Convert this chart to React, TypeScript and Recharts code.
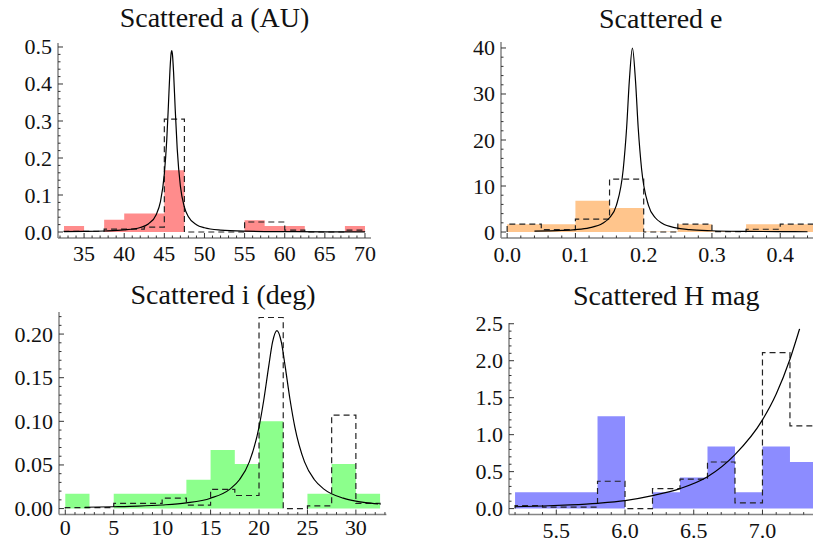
import { ComposedChart, Area, Line, XAxis, YAxis } from "recharts"

// ---- Scattered a (AU)
const aEdges = [32.5, 35, 37.5, 40, 42.5, 45, 47.5, 50, 52.5, 55, 57.5, 60, 62.5, 65, 67.5, 70]
const aFilled = [0.016, 0, 0.033, 0.05, 0.05, 0.167, 0, 0, 0, 0.032, 0.016, 0.016, 0, 0, 0.016]
const aDashed = [0.002, 0.002, 0.008, 0.008, 0.013, 0.305, 0, 0, 0, 0.027, 0.027, 0.005, 0, 0, 0.005]
const aCurveX = [32.5, 35, 37.5, 40, 42, 43, 44, 44.5, 45, 45.3, 45.5, 45.7, 45.85, 45.92, 46, 46.15, 46.35, 46.6, 47, 47.5, 48, 49, 50, 52, 55, 60, 65, 70]
const aCurveY = [0.0011, 0.0016, 0.0027, 0.0055, 0.0123, 0.0218, 0.0476, 0.0806, 0.157, 0.249, 0.339, 0.437, 0.484, 0.49, 0.482, 0.432, 0.334, 0.226, 0.124, 0.067, 0.041, 0.0197, 0.0114, 0.0052, 0.0023, 0.001, 0.0005, 0.0003]
const aXTicks = [35, 40, 45, 50, 55, 60, 65, 70]
const aYTicks = [0, 0.1, 0.2, 0.3, 0.4, 0.5]

// ---- Scattered e
const eEdges = [0, 0.05, 0.1, 0.15, 0.2, 0.25, 0.3, 0.35, 0.4, 0.45]
const eFilled = [1.7, 1.7, 6.8, 5.2, 0.1, 1.7, 0.15, 1.7, 1.7]
const eDashed = [1.7, 0.5, 2.8, 11.5, 0, 1.7, 0.1, 0.6, 1.7]
const eCurveX = [0.04, 0.06, 0.08, 0.1, 0.12, 0.14, 0.15, 0.16, 0.17, 0.175, 0.179, 0.1835, 0.188, 0.192, 0.197, 0.207, 0.217, 0.227, 0.247, 0.267, 0.3, 0.35, 0.4, 0.44]
const eCurveY = [0.18, 0.25, 0.35, 0.53, 0.91, 1.9, 3.1, 5.8, 13.6, 22.6, 32.9, 40, 32.9, 22.6, 13.6, 5.8, 3.1, 1.9, 0.91, 0.53, 0.28, 0.14, 0.08, 0.06]
const eXTicks = [0, 0.1, 0.2, 0.3, 0.4]
const eYTicks = [0, 10, 20, 30, 40]

// ---- Scattered i (deg)
const iEdges = [0, 2.5, 5, 7.5, 10, 12.5, 15, 17.5, 20, 22.5, 25, 27.5, 30, 32.5]
const iFilled = [0.017, 0, 0.017, 0.017, 0.017, 0.033, 0.067, 0.051, 0.1, 0, 0.017, 0.051, 0.017]
const iDashed = [0.001, 0.001, 0.006, 0.006, 0.012, 0.004, 0.022, 0.015, 0.219, 0, 0.003, 0.107, 0.006]
const iCurveX = [2, 5, 7.5, 10, 12.5, 15, 17, 18, 19, 20, 20.5, 21, 21.4, 21.85, 22.3, 22.7, 23.2, 23.7, 24.7, 25.7, 26.7, 28.7, 30, 31, 32.3]
const iCurveY = [0.0015, 0.0021, 0.0028, 0.0041, 0.0065, 0.0119, 0.0223, 0.0333, 0.0535, 0.0934, 0.125, 0.163, 0.191, 0.204, 0.191, 0.163, 0.125, 0.0934, 0.0535, 0.0333, 0.0223, 0.0119, 0.0085, 0.0068, 0.0053]
const iXTicks = [0, 5, 10, 15, 20, 25, 30]
const iYTicks = [0, 0.05, 0.1, 0.15, 0.2]

// ---- Scattered H mag
const hEdges = [5.2, 5.4, 5.6, 5.8, 6.0, 6.2, 6.4, 6.6, 6.8, 7.0, 7.2, 7.4]
const hFilled = [0.22, 0.22, 0.22, 1.25, 0, 0.22, 0.42, 0.84, 0.22, 0.84, 0.63]
const hDashed = [0.04, 0.02, 0.02, 0.37, 0, 0.27, 0.4, 0.63, 0.077, 2.11, 1.12]
const hCurveX = [5.2, 5.4, 5.6, 5.8, 6.0, 6.2, 6.4, 6.6, 6.8, 7.0, 7.1, 7.2, 7.27]
const hCurveY = [0.025, 0.035, 0.05, 0.072, 0.108, 0.176, 0.27, 0.43, 0.73, 1.2, 1.55, 2.02, 2.43]
const hXTicks = [5.5, 6.0, 6.5, 7.0]
const hYTicks = [0, 0.5, 1.0, 1.5, 2.0, 2.5]

const FONT = "'Liberation Serif', 'Times New Roman', serif"
const FRAME = "#858585"
const TICK = "#333"

const stepData = (edges: number[], vals: number[]) => {
  const pts = [{ x: edges[0], y: 0 }]
  vals.forEach((v, i) => pts.push({ x: edges[i], y: v }))
  pts.push({ x: edges[edges.length - 1], y: vals[vals.length - 1] })
  pts.push({ x: edges[edges.length - 1], y: 0 })
  return pts
}

const curveData = (xs: number[], ys: number[]) => xs.map((x, i) => ({ x, y: ys[i] }))

// major ticks plus minor subdivisions inside the domain
const withMinors = (majors: number[], domain: number[]) => {
  const step = (majors[1] - majors[0]) / 5
  const out: number[] = []
  const start = Math.ceil(domain[0] / step - 1e-6)
  for (let k = start; k * step <= domain[1] + 1e-9; k++) out.push(Number((k * step).toFixed(6)))
  return out
}

const isMajor = (v: number, majors: number[]) => majors.some((m) => Math.abs(m - v) < 1e-6)

interface PanelProps {
  title: string
  edges: number[]
  filled: number[]
  dashed: number[]
  curveX: number[]
  curveY: number[]
  xTicks: number[]
  yTicks: number[]
  xDec: number
  yDec: number
  xDomain: number[]
  yDomain: number[]
  plot: { left: number; top: number; right: number; bottom: number }
  color: string
  labelDy: number
  titleY: number
  showRight: boolean
}

const AXW = 60
const AXH = 34
const PADT = 16
const PADR = 6

const Panel = (p: PanelProps) => {
  const w = p.plot.right - p.plot.left
  const h = p.plot.bottom - p.plot.top
  const xAll = withMinors(p.xTicks, p.xDomain)
  const yAll = withMinors(p.yTicks, p.yDomain)

  const bottomTick = (props: any) => {
    const { x, y, payload } = props
    const major = isMajor(payload.value, p.xTicks)
    return (
      <g>
        <line x1={x} x2={x} y1={y} y2={y - (major ? 5 : 2.5)} stroke={TICK} strokeWidth={1} />
        {major && (
          <text x={x} y={y + p.labelDy} textAnchor="middle" fontFamily={FONT} fontSize={22} fill="#111">
            {payload.value.toFixed(p.xDec)}
          </text>
        )}
      </g>
    )
  }
  const topTick = (props: any) => {
    const { x, y, payload } = props
    const major = isMajor(payload.value, p.xTicks)
    return <line x1={x} x2={x} y1={y} y2={y + (major ? 5 : 2.5)} stroke={TICK} strokeWidth={1} />
  }
  const leftTick = (props: any) => {
    const { x, y, payload } = props
    const major = isMajor(payload.value, p.yTicks)
    return (
      <g>
        <line x1={x} x2={x + (major ? 5 : 2.5)} y1={y} y2={y} stroke={TICK} strokeWidth={1} />
        {major && (
          <text x={x - 6} y={y + 7.5} textAnchor="end" fontFamily={FONT} fontSize={22} fill="#111">
            {payload.value.toFixed(p.yDec)}
          </text>
        )}
      </g>
    )
  }
  const rightTick = (props: any) => {
    const { x, y, payload } = props
    const major = isMajor(payload.value, p.yTicks)
    return <line x1={x} x2={x - (major ? 5 : 2.5)} y1={y} y2={y} stroke={TICK} strokeWidth={1} />
  }

  return (
    <div style={{ position: "absolute", left: p.plot.left - AXW, top: p.plot.top - PADT }}>
      <ComposedChart
        width={w + AXW + PADR}
        height={h + AXH + PADT}
        margin={{ top: PADT, right: PADR, bottom: 0, left: 0 }}
      >
        <XAxis
          xAxisId="b"
          dataKey="x"
          type="number"
          domain={p.xDomain}
          allowDataOverflow
          ticks={xAll}
          interval={0}
          height={AXH}
          tickSize={0}
          tickMargin={0}
          tickLine={false}
          tick={bottomTick}
          axisLine={{ stroke: FRAME, strokeWidth: 1.5 }}
        />
        <XAxis
          xAxisId="t"
          orientation="top"
          dataKey="x"
          type="number"
          domain={p.xDomain}
          allowDataOverflow
          ticks={xAll}
          interval={0}
          height={0}
          tickSize={0}
          tickMargin={0}
          tickLine={false}
          tick={topTick}
          axisLine={{ stroke: FRAME, strokeWidth: 1.5 }}
        />
        <YAxis
          yAxisId="l"
          type="number"
          domain={p.yDomain}
          allowDataOverflow
          ticks={yAll}
          interval={0}
          width={AXW}
          tickSize={0}
          tickMargin={0}
          tickLine={false}
          tick={leftTick}
          axisLine={{ stroke: FRAME, strokeWidth: 1.5 }}
        />
        {p.showRight && (
          <YAxis
            yAxisId="r"
            orientation="right"
            type="number"
            domain={p.yDomain}
            allowDataOverflow
            ticks={yAll}
            interval={0}
            width={0}
            tickSize={0}
            tickMargin={0}
            tickLine={false}
            tick={rightTick}
            axisLine={{ stroke: FRAME, strokeWidth: 1.5 }}
          />
        )}
        <Area
          xAxisId="b"
          yAxisId="l"
          data={stepData(p.edges, p.filled)}
          dataKey="y"
          type="stepAfter"
          baseValue={0}
          fill={p.color}
          fillOpacity={1}
          stroke="none"
          isAnimationActive={false}
        />
        <Line
          xAxisId="b"
          yAxisId="l"
          data={stepData(p.edges, p.dashed)}
          dataKey="y"
          type="stepAfter"
          stroke="#222"
          strokeWidth={1.2}
          strokeDasharray="6 4"
          dot={false}
          isAnimationActive={false}
        />
        <Line
          xAxisId="b"
          yAxisId="l"
          data={curveData(p.curveX, p.curveY)}
          dataKey="y"
          type="monotone"
          stroke="#000"
          strokeWidth={1.2}
          dot={false}
          isAnimationActive={false}
        />
      </ComposedChart>
    </div>
  )
}

const panels: PanelProps[] = [
  {
    title: "Scattered a (AU)",
    edges: aEdges, filled: aFilled, dashed: aDashed, curveX: aCurveX, curveY: aCurveY,
    xTicks: aXTicks, yTicks: aYTicks, xDec: 0, yDec: 1,
    xDomain: [31.75, 70.75], yDomain: [-0.0162, 0.5108],
    plot: { left: 58, top: 43, right: 371, bottom: 238 },
    color: "#ff8c8c", labelDy: 23, titleY: 27, showRight: true,
  },
  {
    title: "Scattered e",
    edges: eEdges, filled: eFilled, dashed: eDashed, curveX: eCurveX, curveY: eCurveY,
    xTicks: eXTicks, yTicks: eYTicks, xDec: 1, yDec: 0,
    xDomain: [-0.009, 0.459], yDomain: [-1.3, 41.3],
    plot: { left: 501, top: 42, right: 820.5, bottom: 238 },
    color: "#ffc58c", labelDy: 24, titleY: 28, showRight: false,
  },
  {
    title: "Scattered i (deg)",
    edges: iEdges, filled: iFilled, dashed: iDashed, curveX: iCurveX, curveY: iCurveY,
    xTicks: iXTicks, yTicks: iYTicks, xDec: 0, yDec: 2,
    xDomain: [-0.65, 33.15], yDomain: [-0.0069, 0.2253],
    plot: { left: 59.3, top: 311.7, right: 386.7, bottom: 514.3 },
    color: "#8cff8c", labelDy: 20, titleY: 304, showRight: true,
  },
  {
    title: "Scattered H mag",
    edges: hEdges, filled: hFilled, dashed: hDashed, curveX: hCurveX, curveY: hCurveY,
    xTicks: hXTicks, yTicks: hYTicks, xDec: 1, yDec: 1,
    xDomain: [5.156, 7.444], yDomain: [-0.081, 2.51],
    plot: { left: 509, top: 322.7, right: 823.5, bottom: 514.3 },
    color: "#8c8cff", labelDy: 23, titleY: 305, showRight: false,
  },
]

export default function App() {
  return (
    <div
      style={{
        position: "absolute",
        left: 0,
        top: 0,
        width: 813,
        height: 542,
        overflow: "hidden",
        background: "#fff",
      }}
    >
      {panels.map((p) => (
        <Panel key={p.title} {...p} />
      ))}
      <svg width={813} height={542} style={{ position: "absolute", left: 0, top: 0, pointerEvents: "none" }}>
        {panels.map((p) => (
          <text
            key={p.title}
            x={(p.plot.left + p.plot.right) / 2}
            y={p.titleY}
            textAnchor="middle"
            fontFamily={FONT}
            fontSize={28}
            fill="#111"
          >
            {p.title}
          </text>
        ))}
      </svg>
    </div>
  )
}
